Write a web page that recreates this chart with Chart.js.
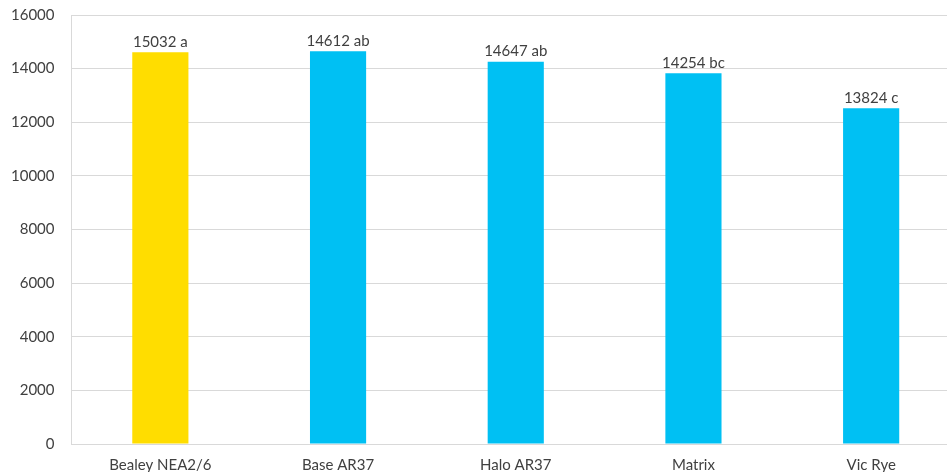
<!DOCTYPE html>
<html>
<head>
<meta charset="utf-8">
<script src="https://cdn.jsdelivr.net/npm/chart.js@4/dist/chart.umd.min.js"></script>
<style>
  html, body { margin: 0; padding: 0; overflow: hidden; background: #fff; }
  #wrap { width: 960px; height: 483px; margin-top: -11px; }
</style>
</head>
<body>
<div id="wrap"><canvas id="myChart"></canvas></div>
<script>
const categories = ['Bealey NEA2/6', 'Base AR37', 'Halo AR37', 'Matrix', 'Vic Rye'];
const values = [14612, 14647, 14254, 13824, 12520];
const valueLabels = ['15032 a', '14612 ab', '14647 ab', '14254 bc', '13824 c'];
const barColors = ['#ffdd00', '#00c0f3', '#00c0f3', '#00c0f3', '#00c0f3'];

// writes the text above each bar
const topLabels = {
    id: 'topLabels',
    afterDatasetsDraw(chart)
    {
        const ctx = chart.ctx;
        const meta = chart.getDatasetMeta(0);
        ctx.save();
        ctx.font = '15px Lato, sans-serif';
        ctx.fillStyle = '#404040';
        ctx.textAlign = 'center';
        ctx.textBaseline = 'bottom';
        meta.data.forEach((bar, i) =>
        {
            ctx.fillText(valueLabels[i], bar.x, bar.y - 3);
        });
        ctx.restore();
    }
};

const ctx = document.getElementById('myChart');
new Chart(ctx,
{
    type: 'bar',
    data: {
        labels: categories,
        datasets: [{
            data: values,
            backgroundColor: barColors,
            barPercentage: 1,
            categoryPercentage: 0.316
        }]
    },
    options: {
        responsive: true,
        maintainAspectRatio: false,
        animation: false,
        layout: { padding: { top: 0, left: -6, right: 0, bottom: -6 } },
        plugins: {
            legend: { display: false },
            tooltip: { enabled: false }
        },
        scales: {
            x: {
                grid: { display: false },
                border: { display: true, color: '#d9d9d9', width: 1 },
                ticks: { color: '#404040', font: { family: 'Lato', size: 15 }, padding: 4 }
            },
            y: {
                min: 0,
                max: 16000,
                grid: { color: '#d9d9d9', drawTicks: false },
                border: { display: true, color: '#d9d9d9', width: 1 },
                ticks: {
                    stepSize: 2000,
                    color: '#404040',
                    font: { family: 'Lato', size: 15 },
                    padding: 17,
                    callback: v => String(v)
                }
            }
        }
    },
    plugins: [topLabels]
});
</script>
</body>
</html>
